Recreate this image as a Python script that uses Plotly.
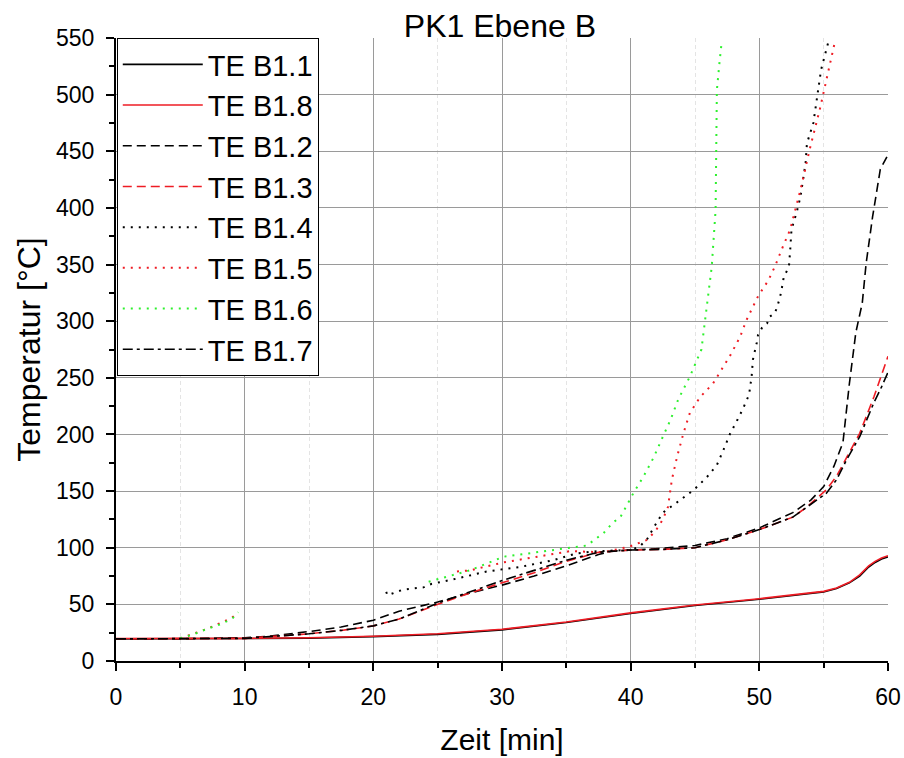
import plotly.graph_objects as go

# ---------------- data ----------------
t_b11 = [0, 5, 10, 15, 20, 25, 30, 35, 40, 45, 50, 55, 56, 57, 57.8, 58.5, 59, 59.5, 60]
v_b11 = [19.5, 19.5, 19.8, 20.2, 21.5, 23.5, 27.5, 34, 42, 49, 54.5, 61, 64, 69, 75, 83, 87, 90, 92]

t_b18 = [0, 5, 10, 15, 20, 25, 30, 35, 40, 45, 50, 55, 56, 57, 57.8, 58.5, 59, 59.5, 60]
v_b18 = [19.8, 19.8, 20.0, 20.5, 21.8, 24, 28, 34.5, 42.5, 49.5, 55, 61.5, 64.5, 69.5, 76, 84, 88, 91, 93]

t_b12 = [0, 5, 10, 12, 15, 17.5, 20, 22, 25, 27.5, 30, 32.5, 35, 37.5, 38.5, 40, 42.5, 45, 47.5,
         50, 52.6, 54, 55, 55.8, 56.5, 57, 57.5, 58, 58.3, 58.8, 59.4, 60]
v_b12 = [19.5, 19.5, 20.5, 22, 26, 30, 36, 44, 52, 60, 67, 75, 84, 94, 97, 98, 99.5, 102, 108,
         117.5, 131, 142, 154, 172, 193, 245, 290, 316, 351, 392, 434, 447]

t_b13 = [0, 5, 10, 15, 17.5, 20, 22, 25, 27.5, 30, 32.5, 35, 37.5, 40, 42.5, 45, 47.5, 50,
         52.6, 53.7, 55.2, 56, 56.8, 57.8, 58.9, 59.5, 60]
v_b13 = [19.5, 19.5, 20, 24, 27, 31, 37, 50, 60, 69, 78, 88, 96, 98, 98.5, 100, 107, 116,
         127, 136, 151, 163, 180, 201, 233, 252, 269]

t_b14 = [21, 21.1, 22.3, 23.9, 24.5, 26.2, 28.8, 31.4, 34, 35.8, 37.4, 40, 40.7, 41.3, 41.8,
         42.5, 43.6, 44.9, 45.9, 46.7, 47.2, 47.7, 48.3, 48.7, 49.2, 49.4, 49.5, 49.7, 49.8,
         49.9, 50.2, 50.6, 50.8, 51.2, 51.4, 51.6, 51.7, 51.9, 52.1, 52.3, 52.4, 52.5, 52.9,
         53.2, 53.6, 53.7, 54.2, 54.5, 54.8, 55.4]
v_b14 = [61, 58, 63, 65, 68, 72, 79, 83, 89, 95, 97, 98, 101, 108, 118,
         131, 140, 151, 162, 173, 186, 200, 213, 222, 235, 251, 266, 275, 281,
         288, 294, 298, 304, 307, 313, 321, 326, 339, 344, 348, 363, 381, 396,
         410, 440, 457, 475, 498, 522, 548]

t_b15 = [5, 6, 7, 8, 9, 9.4, None, 26.5, 27.5, 30.1, 32.7, 35.3, 37.9, 39.9, 41.3, 42, 42.5,
         42.9, 43.2, 43.6, 44.1, 44.6, 45.4, 46.4, 47.7, 48.5, 49, 49.9, 50.7, 51.2, 51.8,
         52.4, 53.2, 53.9, 54.7, 55.4, 55.9]
v_b15 = [20, 24, 28, 33, 38, 42, None, 79, 80, 87, 92, 97, 96, 101, 107, 116, 125,
         136, 160, 180, 201, 219, 233, 245, 269, 286, 301, 322, 336, 348, 365,
         381, 416, 451, 487, 522, 548]

t_b16 = [5, 6, 7, 8, 9, 9.5, None, 24.3, 27.5, 30.1, 32.7, 35.3, 36.6, 37.9, 38.6, 39.2, 40.2,
         41, 41.8, 42.5, 43.1, 43.7, 44.4, 44.6, 45.5, 46, 46.3, 46.6, 46.65, 46.7, 46.9, 47.07]
v_b16 = [20, 23.5, 28, 32, 37, 43, None, 70, 80, 92, 96, 100, 102, 113, 122, 127, 148,
         163, 180, 198, 213, 231, 246, 251, 275, 319, 348, 398, 469, 504, 528, 546]

t_b17 = [0, 5, 10, 15, 17.5, 20, 22, 25, 27.5, 30, 32.5, 35, 37.5, 40, 42.5, 45, 47.5, 50,
         52.6, 53.7, 55.2, 56, 56.8, 57.8, 58.9, 59.5, 60]
v_b17 = [19.5, 19.5, 20, 24, 27, 31, 37, 51, 61, 71, 80, 89, 96, 98, 98.5, 100, 107, 116,
         127, 136, 148, 160, 178, 198, 228, 242, 255]

x_ticks = [0, 10, 20, 30, 40, 50, 60]
y_ticks = [0, 50, 100, 150, 200, 250, 300, 350, 400, 450, 500, 550]

# ---------------- styles ----------------
BLACK = "#000000"
RED = "#ee1c24"
GREEN = "#2ef02e"
DASH = "9px,5px"
DOT = "2px,6px"
DASHDOT = "10px,4px,3px,4px"

series = [
    ("TE B1.1", t_b11, v_b11, BLACK, "solid", 1.6),
    ("TE B1.8", t_b18, v_b18, RED, "solid", 1.6),
    ("TE B1.2", t_b12, v_b12, BLACK, DASH, 1.6),
    ("TE B1.3", t_b13, v_b13, RED, DASH, 1.6),
    ("TE B1.4", t_b14, v_b14, BLACK, DOT, 2),
    ("TE B1.5", t_b15, v_b15, RED, DOT, 2),
    ("TE B1.6", t_b16, v_b16, GREEN, DOT, 2),
    ("TE B1.7", t_b17, v_b17, BLACK, DASHDOT, 1.6),
]

fig = go.Figure()
for name, xs, ys, col, dash, w in series:
    fig.add_trace(go.Scatter(x=xs, y=ys, name=name, mode="lines",
                             line=dict(color=col, dash=dash, width=w),
                             connectgaps=False))

FONT = "Liberation Sans, Arial, sans-serif"

fig.update_layout(
    width=904, height=758,
    margin=dict(l=116, r=16, t=38, b=97, autoexpand=False),
    paper_bgcolor="white", plot_bgcolor="white",
    font=dict(family=FONT, color="black"),
    title=dict(text="PK1 Ebene B", x=0.553, xanchor="center",
               yref="container", y=0.951, yanchor="bottom",
               font=dict(size=32, family=FONT, color="black")),
    showlegend=True,
    legend=dict(x=0.001, y=1.0, xanchor="left", yanchor="top",
                bgcolor="white", bordercolor="black", borderwidth=1,
                font=dict(size=29, family=FONT, color="black"),
                itemwidth=80, tracegroupgap=0),
)

fig.update_xaxes(
    range=[0, 60], tickmode="array", tickvals=x_ticks, automargin=False,
    ticks="outside", ticklen=8, tickwidth=2, tickcolor="black",
    ticklabelstandoff=6,
    showline=True, linecolor="black", linewidth=2,
    showgrid=True, gridcolor="#9a9a9a", gridwidth=1,
    zeroline=False,
    tickfont=dict(size=23, family=FONT, color="black"),
    title=dict(text="Zeit [min]", font=dict(size=30, family=FONT, color="black"), standoff=20),
    minor=dict(dtick=5, tick0=0, ticks="outside", ticklen=5, tickwidth=2, tickcolor="black",
               showgrid=True, gridcolor="#e4e4e4", griddash="4px,3px", gridwidth=1),
)
fig.update_yaxes(
    range=[0, 550], tickmode="array", tickvals=y_ticks, automargin=False,
    ticks="outside", ticklen=8, tickwidth=2, tickcolor="black",
    ticklabelstandoff=7,
    showline=True, linecolor="black", linewidth=2,
    showgrid=True, gridcolor="#9a9a9a", gridwidth=1,
    zeroline=False,
    tickfont=dict(size=23, family=FONT, color="black"),
    title=dict(text="Temperatur [°C]", font=dict(size=32, family=FONT, color="black"), standoff=6),
    minor=dict(dtick=25, tick0=0, ticks="outside", ticklen=5, tickwidth=2, tickcolor="black",
               showgrid=False),
)

fig.write_html(
    "out.html",
    config={"displayModeBar": False},
    post_script="document.body.style.margin='0';document.body.style.overflow='hidden';",
)
